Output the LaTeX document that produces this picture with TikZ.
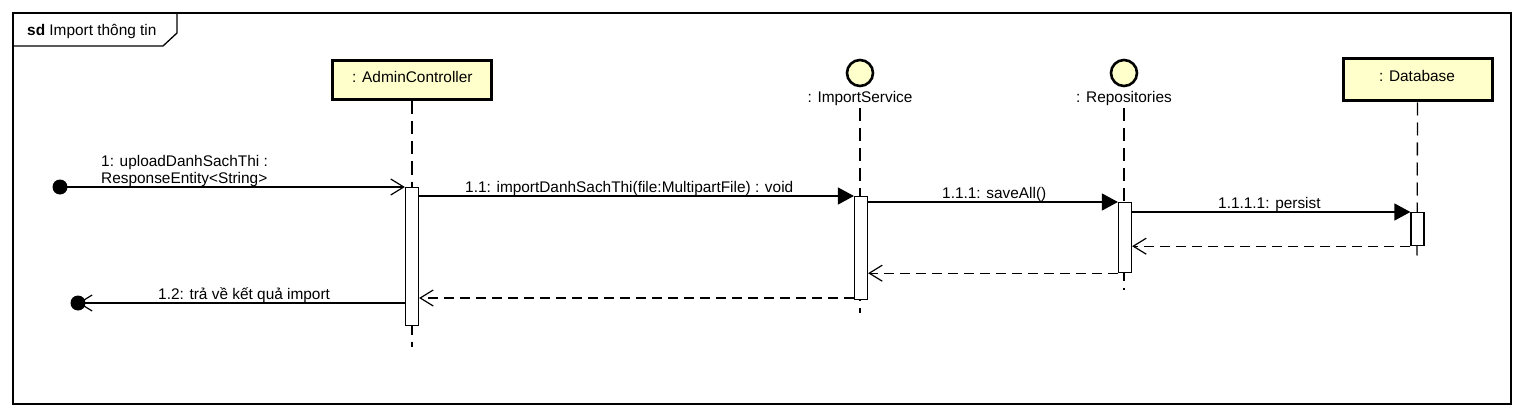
\documentclass[tikz,border=0pt]{standalone}
\usepackage{fontspec}
\setmainfont{Liberation Sans}
\usetikzlibrary{arrows.meta}
\definecolor{lifeyellow}{RGB}{255,255,204}
\tikzset{
  every node/.style={font=\fontsize{15.4}{18}\selectfont, inner sep=0pt},
  headbox/.style={draw, line width=3pt, fill=lifeyellow, minimum height=39pt},
  headcircle/.style={draw, circle, line width=2.6pt, fill=lifeyellow, minimum size=26pt},
  lifeline/.style={line width=1.3pt, dash pattern=on 13pt off 7pt},
  actbox/.style={draw, line width=1.2pt, fill=white, minimum width=13pt},
  msgcall/.style={line width=1.2pt, -{Triangle[length=16pt,width=17pt]}},
  msgsync/.style={line width=1.2pt, -{Straight Barb[length=13pt,width=16pt,line width=1.2pt]}},
  msgreturn/.style={line width=1.2pt, dash pattern=on 10pt off 6pt, -{Straight Barb[length=13pt,width=16pt,line width=1.2pt]}},
  dot/.style={circle, fill=black, minimum size=15pt},
  lbl/.style={anchor=base west},
}
\begin{document}
\begin{tikzpicture}[x=1pt,y=-1pt]
\useasboundingbox (0,0) rectangle (1526,417);
% frame
\draw[line width=1.5pt] (13,13) rectangle (1511,404);
\draw[line width=1.3pt] (13,46) -- (163,46) -- (177,33) -- (177,13);
\node[lbl] (title) at (27,36) {\textbf{sd} Import thông tin};

% heads
\node[headbox, minimum width=159pt] (ac) at (412,80.5) {};
\node[lbl] (aclbl) at (352,83) {: AdminController};
\node[headcircle] (is) at (860,73) {};
\node[anchor=base] (islbl) at (860,103) {: ImportService};
\node[headcircle] (rp) at (1124,73) {};
\node[anchor=base] (rplbl) at (1124,103) {: Repositories};
\node[headbox, minimum width=149pt, minimum height=42pt] (db) at (1417.5,80) {};
\node[anchor=base] (dblbl) at (1417,82) {: Database};

% lifelines
\coordinate (acend) at (412,347);
\coordinate (isend) at (860,313);
\coordinate (rpend) at (1124,290);
\coordinate (dbend) at (1417,260);
\draw[lifeline] (ac.south) -- (acend);
\draw[lifeline] (islbl.south |- 0,108) -- (isend);
\draw[lifeline] (rplbl.south |- 0,108) -- (rpend);
\draw[lifeline] (db.south) -- (dbend);

% activations
\node[actbox, anchor=north, minimum height=138pt] (a1) at (412,187) {};
\node[actbox, anchor=north, minimum height=103pt] (a2) at (861,196) {};
\node[actbox, anchor=north, minimum height=70pt] (a3) at (1125,202) {};
\node[actbox, anchor=north, minimum height=33pt] (a4) at (1417.5,212) {};

% found / lost
\node[dot] (found) at (60,187) {};
\node[dot] (lost) at (78,303) {};

% messages
\draw[msgsync] (found.center) -- (a1.west |- found.center);
\node[lbl] (m1a) at (101,166) {1: uploadDanhSachThi :};
\node[lbl] (m1b) at (101,183) {ResponseEntity<String>};

\draw[msgcall] (a1.east |- 0,196) -- (a2.north west);
\node[lbl] (m11) at (465,192) {1.1: importDanhSachThi(file:MultipartFile) : void};

\draw[msgcall] (a2.east |- 0,202) -- (a3.north west);
\node[lbl] (m111) at (942,198) {1.1.1: saveAll()};

\draw[msgcall] (a3.east |- 0,212) -- (a4.north west);
\node[lbl] (m1111) at (1218,208) {1.1.1.1: persist};

\draw[msgreturn] (a4.south west) -- (a3.east |- a4.south west);
\draw[msgreturn] (a3.south west) -- (a2.east |- a3.south west);
\draw[msgreturn] (a2.south west |- 0,298) -- (a1.east |- 0,298);

\draw[msgsync] (a1.west |- 0,303) -- (lost.center);
\node[lbl] (m12) at (158,299) {1.2: trả về kết quả import};
\end{tikzpicture}
\end{document}
